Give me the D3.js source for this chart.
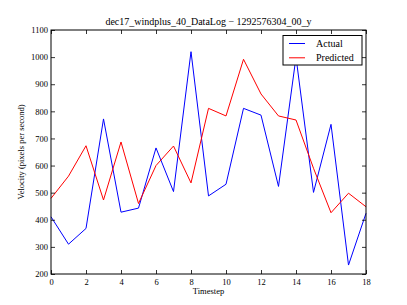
<!DOCTYPE html>
<html><head><meta charset="utf-8">
<script src="https://cdn.jsdelivr.net/npm/d3@7"></script>
<style>body{margin:0;background:#fff;} svg{display:block;} text{font-family:"Liberation Serif","DejaVu Serif",serif;}</style>
</head><body>
<script>
const timesteps = [0,1,2,3,4,5,6,7,8,9,10,11,12,13,14,15,16,17,18];
const actual    = [411,310,368,772,428,443,665,504,1020,488,531,811,786,523,1000,501,752,233,424];
const predicted = [479,561,673,473,687,460,600,672,536,811,783,992,864,783,768,590,426,498,448];
const xTicks = [0,2,4,6,8,10,12,14,16,18];
const yTicks = [200,300,400,500,600,700,800,900,1000,1100];
const titleText = "dec17_windplus_40_DataLog \u2212 1292576304_00_y";
const seriesNames = ["Actual","Predicted"];
const seriesColors = ["#0000ff","#ff0000"];

const W=407,H=305;
const m={left:51,right:41,top:30,bottom:31};
const svg=d3.select("body").append("svg").attr("width",W).attr("height",H);
const x=d3.scaleLinear().domain([0,18]).range([m.left,W-m.right]);
const y=d3.scaleLinear().domain([200,1100]).range([H-m.bottom,m.top]);

const line=d3.line().x((d,i)=>x(timesteps[i])).y(d=>y(d));
[actual,predicted].forEach((s,k)=>{
  svg.append("path").datum(s).attr("d",line).attr("fill","none")
    .attr("stroke",seriesColors[k]).attr("stroke-width",1);
});

// axes with inward ticks
const tl=4;
const fmt=d3.format("d");
const axB=d3.axisBottom(x).tickValues(xTicks).tickFormat(fmt).tickSizeInner(-tl).tickSizeOuter(0).tickPadding(5);
const axT=d3.axisTop(x).tickValues(xTicks).tickSizeInner(-tl).tickSizeOuter(0).tickFormat("");
const axL=d3.axisLeft(y).tickValues(yTicks).tickFormat(fmt).tickSizeInner(-tl).tickSizeOuter(0).tickPadding(3);
const axR=d3.axisRight(y).tickValues(yTicks).tickSizeInner(-tl).tickSizeOuter(0).tickFormat("");
function style(g){g.select(".domain").remove();g.selectAll("line").attr("stroke","#000").attr("stroke-width",0.8);
  g.selectAll("text").attr("fill","#000").style("font-size","8.5px").style("font-family","'Liberation Serif',serif");}
svg.append("g").attr("transform",`translate(0,${H-m.bottom})`).call(axB).call(style);
svg.append("g").attr("transform",`translate(0,${m.top})`).call(axT).call(style);
svg.append("g").attr("transform",`translate(${m.left},0)`).call(axL).call(style);
svg.append("g").attr("transform",`translate(${W-m.right},0)`).call(axR).call(style);
svg.append("rect").attr("x",m.left).attr("y",m.top).attr("width",W-m.left-m.right).attr("height",H-m.top-m.bottom)
  .attr("fill","none").attr("stroke","#000").attr("stroke-width",1);

svg.append("text").attr("x",(m.left+W-m.right)/2).attr("y",25).attr("text-anchor","middle")
  .style("font-size","10px").text(titleText);
svg.append("text").attr("x",(m.left+W-m.right)/2).attr("y",294).attr("text-anchor","middle")
  .style("font-size","8.5px").text("Timestep");
svg.append("text").attr("transform",`translate(24,${(m.top+H-m.bottom)/2}) rotate(-90)`).attr("text-anchor","middle")
  .style("font-size","8.5px").text("Velocity (pixels per second)");

// legend
const lg=svg.append("g");
lg.append("rect").attr("x",283).attr("y",35.5).attr("width",79).attr("height",29.5)
  .attr("fill","#fff").attr("stroke","#000").attr("stroke-width",1);
seriesNames.forEach((n,k)=>{
  const yy=43.5+k*14.3;
  lg.append("line").attr("x1",289).attr("x2",305).attr("y1",yy).attr("y2",yy).attr("stroke",seriesColors[k]).attr("stroke-width",1);
  lg.append("text").attr("x",316).attr("y",yy+3.5).style("font-size","10px").text(n);
});
</script>
</body></html>
